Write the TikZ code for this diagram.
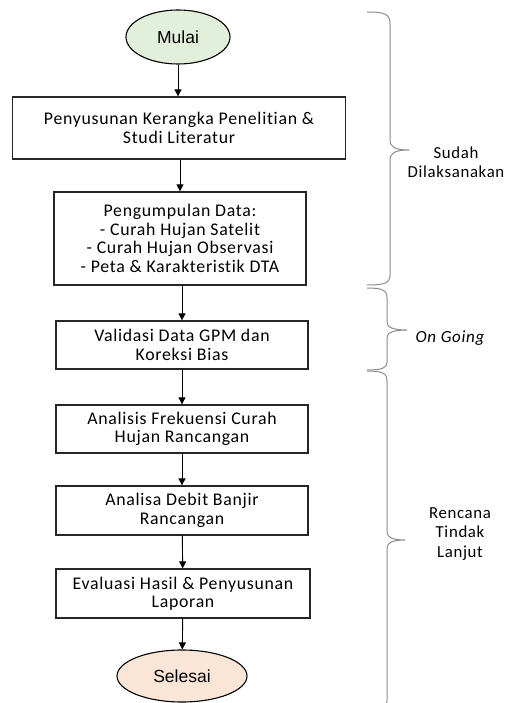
\documentclass[tikz,border=0pt]{standalone}
\usepackage{fontspec}
\setmainfont{Carlito}[LetterSpace=4,Ligatures=CommonOff]
\newfontfamily\arialfont{Liberation Sans}
\usetikzlibrary{arrows.meta,shapes.geometric}
\definecolor{startgreen}{HTML}{E2EFDA}
\definecolor{endpeach}{HTML}{FBE5D6}
\definecolor{bracegray}{HTML}{8C8C8C}
\begin{document}
\begin{tikzpicture}[
            x=1pt, y=-1pt,
            term-node/.style={ellipse,draw=black,line width=1.1pt,font=\arialfont\fontsize{17.5}{20}\selectfont},
            proc-node/.style={rectangle,draw=black!85,line width=1.3pt,align=center,inner sep=0pt,
                font=\fontsize{17.8}{18.5}\selectfont},
            flow-arrow/.style={-{Triangle[width=7pt,length=7pt]},line width=0.9pt},
            brace-line/.style={draw=bracegray,line width=1pt},
            brace-text/.style={align=center,font=\fontsize{16.8}{19.5}\selectfont},
        ]
            \useasboundingbox (0,0) rectangle (509,703);
            \clip (0,0) rectangle (509,703);
            % alur penelitian
            \node[term-node,fill=startgreen,minimum width=104pt,minimum height=54pt] (mulai) at (178,37) {Mulai};
            \node[proc-node,minimum width=333pt,minimum height=62pt] (susun) at (179,128)
                {Penyusunan Kerangka Penelitian \&\\Studi Literatur};
            \node[proc-node,minimum width=252pt,minimum height=93pt] (kumpul) at (180,238.5)
                {Pengumpulan Data:\\- Curah Hujan Satelit\\- Curah Hujan Observasi\\- Peta \& Karakteristik DTA};
            \node[proc-node,minimum width=252pt,minimum height=48pt] (validasi) at (182,345)
                {Validasi Data GPM dan\\Koreksi Bias};
            \node[proc-node,minimum width=252pt,minimum height=48pt] (frekuensi) at (182,429)
                {Analisis Frekuensi Curah\\Hujan Rancangan};
            \node[proc-node,minimum width=252pt,minimum height=49pt] (debit) at (182,510.5)
                {Analisa Debit Banjir\\Rancangan};
            \node[proc-node,minimum width=254pt,minimum height=49pt] (evaluasi) at (183,593.5)
                {Evaluasi Hasil \& Penyusunan\\Laporan};
            \node[term-node,fill=endpeach,minimum width=130pt,minimum height=52pt] (selesai) at (182,676) {Selesai};

            \draw[flow-arrow] (mulai) -- (mulai |- susun.north);
            \draw[flow-arrow] (susun.south -| kumpul) -- (kumpul);
            \draw[flow-arrow] (kumpul.south -| validasi) -- (validasi);
            \draw[flow-arrow] (validasi) -- (frekuensi);
            \draw[flow-arrow] (frekuensi) -- (debit);
            \draw[flow-arrow] (debit) -- (evaluasi);
            \draw[flow-arrow] (evaluasi) -- (selesai);

            % kurung kurawal status
            \draw[brace-line] (367,12) .. controls (385,12) and (390,14) .. (390,24) -- (390,140)
                .. controls (390,147) and (395,150) .. (409,150)
                .. controls (395,150) and (390,153) .. (390,160) -- (390,275)
                .. controls (390,283) and (385,285) .. (367,285);
            \draw[brace-line] (367,288) .. controls (382,288) and (387,290) .. (387,298) -- (387,322)
                .. controls (387,327) and (392,330) .. (407,330)
                .. controls (392,330) and (387,333) .. (387,338) -- (387,362)
                .. controls (387,368) and (382,370) .. (367,370);
            \draw[brace-line] (367,371) .. controls (382,371) and (387,373) .. (387,381) -- (387,532)
                .. controls (387,537) and (392,540) .. (405,540)
                .. controls (392,540) and (387,543) .. (387,548) -- (387,700)
                .. controls (387,707) and (382,709) .. (367,709);

            \node[brace-text] (sudah) at (456,162) {Sudah\\Dilaksanakan};
            \node[brace-text,font=\fontsize{17}{19.5}\selectfont\itshape] (ongoing) at (450,338) {On Going};
            \node[brace-text] (rencana) at (460,534) {Rencana\\Tindak\\Lanjut};
        \end{tikzpicture}
\end{document}
